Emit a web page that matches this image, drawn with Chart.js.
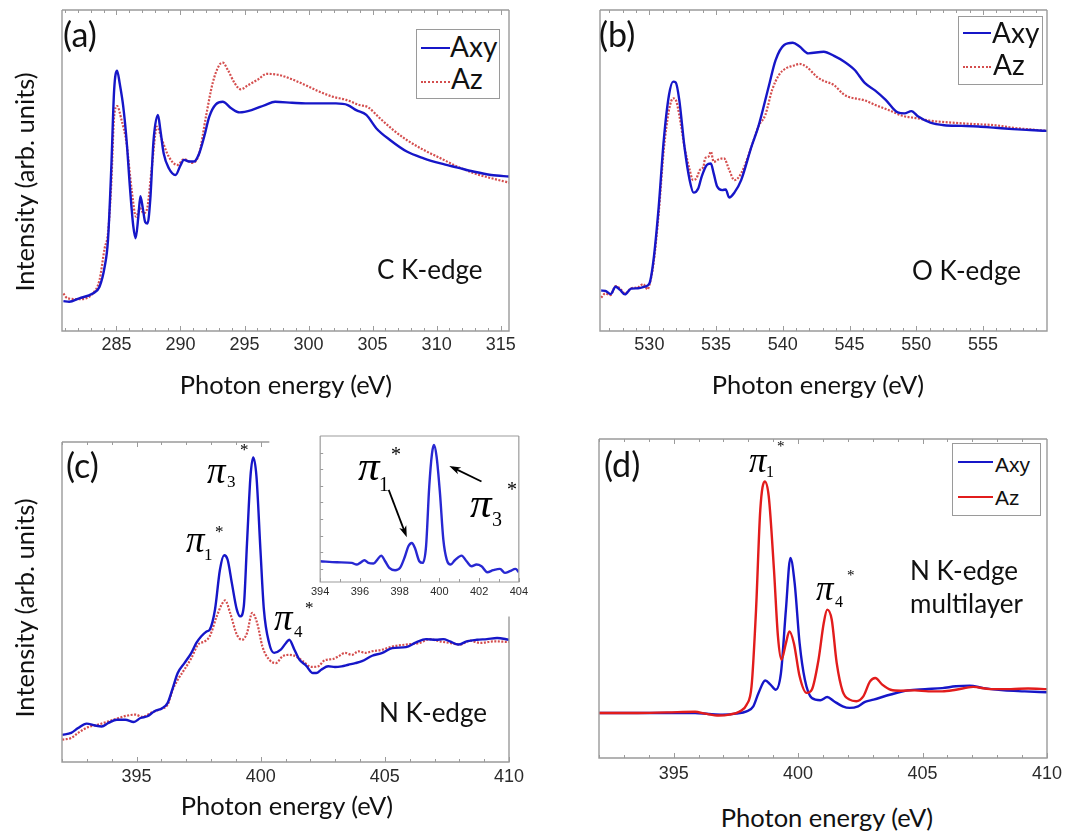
<!DOCTYPE html>
<html><head><meta charset="utf-8">
<script src="https://cdn.jsdelivr.net/npm/chart.js@4.4.0/dist/chart.umd.min.js"></script>
<style>
html,body{margin:0;padding:0;background:#fff;}
#wrap{position:relative;width:1069px;height:837px;overflow:hidden;background:#fff;}
canvas{position:absolute;}
.t{position:absolute;white-space:nowrap;color:#111;}
.box{position:absolute;border:1px solid #9a9a9a;background:#fff;}
.ln{position:absolute;height:0;}
</style></head><body><div id="wrap"></div>
<script>
// ---------- DATA ----------
// (a) C K-edge
const aAxyE = [280.86,281.31,282.10,283.15,283.68,284.08,284.34,284.60,284.82,285.05,285.26,285.53,285.79,286.05,286.32,286.50,286.71,286.87,287.06,287.24,287.43,287.64,287.90,288.24,288.43,288.69,289.09,289.61,290.01,290.27,290.67,291.06,291.46,291.85,292.25,292.78,293.30,293.96,294.62,295.55,296.60,297.39,298.71,299.76,301.08,302.14,303.06,303.72,304.51,305.30,306.36,307.67,308.99,310.31,311.63,312.95,314.26,315.71];
const aAxyI = [9.3,9.1,10.2,11.7,13.8,20,28.3,51,75,81.1,77,70,59.5,45,32.5,28.9,35.6,42,38.2,34,33.5,40.8,59.5,67.3,62.6,55.3,50.7,48.6,51.7,53.3,52.8,52.8,55.3,60.5,66.8,70.7,71.4,69.4,68.1,68.8,70.4,71.4,71.1,70.9,70.9,70.9,70.4,68.8,67.3,63.1,59.5,55.9,53.8,52.2,50.9,49.6,48.6,48.1];
const aAzE = [280.86,281.18,282.10,283.15,283.68,284.08,284.34,284.60,284.82,285.05,285.40,285.79,286.19,286.53,286.85,287.11,287.37,287.77,288.16,288.56,289.09,289.75,290.27,290.93,291.46,291.99,292.51,293.04,293.30,293.70,294.23,294.70,295.28,296.07,296.73,297.65,298.71,299.76,300.82,301.87,302.93,303.98,304.64,305.56,306.62,307.67,308.99,310.31,311.63,312.95,314.26,315.71];
const aAzI = [11.7,10.2,9.9,11.7,15.9,25.8,30.4,46,66.8,70.1,65.7,58.5,43.9,35.6,38.2,36.7,37.7,51.2,63.7,59.5,54.3,51.7,53.5,52.4,55.3,66.8,77.2,82.9,83.6,81.3,77.2,75.3,76.6,78.4,80.1,79.8,78.4,76.6,74.6,73,72,70.4,69.7,66.3,62.6,59.5,56.4,53.8,51.2,49.1,47.6,46.2];
const aTicks = [285,290,295,300,305,310,315];

// (b) O K-edge
const bAxyE = [526.39,526.70,527.09,527.47,527.81,528.17,528.63,529.15,529.66,530.00,530.31,530.70,531.08,531.47,531.78,531.98,532.24,532.63,533.02,533.32,533.66,533.92,534.30,534.61,534.82,535.08,535.46,535.72,535.98,536.37,536.88,537.65,538.17,538.94,539.46,540.10,540.75,541.26,541.91,543.07,543.84,544.61,545.39,546.16,546.93,547.71,548.61,549.12,549.64,550.15,551.06,552.09,553.38,554.66,555.95,557.24,558.53,559.95];
const bAxyI = [12.6,12.5,11.5,13.8,12.8,11.4,13.2,13.3,13.8,14.8,22.1,38.7,59.5,73.5,77.7,77.4,72,57.4,47,43.1,44.4,48.1,51.7,52.2,49.1,45,43.9,44.1,41.6,43.1,47,57.4,63.7,76.1,84.4,89.1,89.8,88.6,86.5,87,85.7,83.9,81.3,77.2,74.9,72,68.1,67.8,68.5,66.8,64.9,64.1,63.9,63.7,63.3,62.9,62.6,62.3];
const bAzE = [526.39,526.70,527.09,527.47,527.81,528.17,528.63,529.15,529.54,529.87,530.00,530.31,530.70,531.08,531.47,531.78,531.98,532.24,532.63,533.02,533.27,533.53,533.79,534.05,534.18,534.43,534.61,534.82,535.21,535.59,535.98,536.37,536.88,537.65,538.17,538.69,539.20,539.72,540.23,540.75,541.26,541.78,542.55,543.07,543.84,544.48,544.87,545.64,546.16,546.93,547.96,548.99,550.03,551.06,552.09,553.38,554.66,555.95,557.24,558.53,559.95];
const bAzI = [10.4,11.7,11.2,14,13.2,11.7,13.3,13.6,14.6,13,14.3,21,36.7,56.4,68.8,72.5,72,67.3,57.4,50.2,47,47.6,50.2,51.2,53.8,54.3,55.9,52.7,53.5,53.8,50.2,47,49.1,57.4,63.7,67.3,75.1,79.8,81.8,82.6,83.2,82.3,79.2,77.9,76.6,74,73,72.3,71.8,70.4,68.8,67,66.3,65.5,65.1,64.7,64.4,64.1,63.3,62.8,62.3];
const bTicks = [530,535,540,545,550,555];

// (c) N K-edge
const cAxyE = [392.01,392.37,392.65,392.99,393.33,393.60,393.87,394.21,394.55,394.89,395.16,395.44,395.71,396.05,396.25,396.46,396.66,396.93,397.21,397.41,397.61,397.82,397.95,398.16,398.36,398.53,398.67,398.84,399.04,399.18,399.32,399.45,399.59,399.70,399.83,399.99,400.13,400.34,400.54,400.81,401.02,401.15,401.36,401.56,401.83,402.10,402.24,402.45,402.72,402.99,403.26,403.53,403.81,404.08,404.49,404.90,405.30,405.85,406.26,406.66,407.07,407.35,407.62,407.96,408.30,408.71,409.11,409.52,410.0];
const cAxyI = [8.5,9.1,10.6,12,11.4,11.1,12.2,13.2,13.2,12.5,13.75,14.3,15.8,16.9,18.4,23.1,27.8,30.9,34.1,37.2,39.3,40.8,41.4,47.6,60.1,64.6,63.2,55.9,47.6,45.5,48.6,68.4,89.3,95.2,89.3,66.4,47.6,37.2,34.1,35.1,37.2,38.2,35.1,32,30.1,27.8,27.8,28.9,29.9,29.7,29.9,30.4,30.9,31.5,33.2,34.1,35.6,35.9,37.4,38.4,38.2,38.4,37.7,36.7,37.7,38.2,38.4,38.75,38.2];
const cAzE = [392.01,392.37,392.65,393.05,393.46,393.87,394.28,394.62,394.96,395.23,395.57,395.91,396.25,396.46,396.66,396.93,397.21,397.48,397.75,397.95,398.23,398.43,398.57,398.77,399.04,399.25,399.45,399.66,399.86,400.07,400.34,400.61,400.88,401.15,401.42,401.70,402.04,402.31,402.58,402.92,403.13,403.40,403.67,403.94,404.21,404.49,404.90,405.30,405.85,406.39,406.80,407.21,407.62,408.03,408.43,408.84,409.39,410.0];
const cAzI = [7,7.5,9.1,10.9,11.7,12.7,13.75,14.5,14.8,14.1,15.3,16.4,17.9,22.6,25.7,28.9,32.5,36.7,37.7,39.3,45.5,49.2,50.5,46.6,39.8,38.2,40.3,46.6,43.4,36.1,32,30.9,33,33.5,33,31.5,29.7,29.9,31.8,32.2,33,34.1,33.5,34.6,34.1,34.6,35.1,36.1,36.7,37.2,38.4,37.7,37.2,36.7,37.9,37.2,37.7,37.5];
const cTicks = [395,400,405,410];

// (c) inset
const inE = [394.00,394.84,395.59,395.84,396.01,396.23,396.43,396.68,396.88,397.07,397.27,397.48,397.77,398.02,398.27,398.44,398.61,398.77,398.99,399.16,399.33,399.49,399.63,399.73,399.86,400.03,400.20,400.37,400.57,400.78,401.12,401.37,401.62,401.87,402.12,402.41,402.71,403.05,403.30,403.55,403.83,404.0];
const inI = [0.46,0.40,0.36,0.26,0.36,0.52,0.36,0.32,0.56,0.80,0.46,0.06,-0.08,0.06,0.76,1.36,1.56,1.26,0.46,0.36,1.36,4.96,6.96,7.46,6.76,4.56,1.76,0.56,0.26,0.52,0.80,0.46,0.16,0.26,0.16,-0.20,-0.08,0.0,-0.24,-0.14,0.0,-0.20];
const inTicks = [394,396,398,400,402,404];
const inYTicks = [0,1,2,3,4,5,6,7];

// (d) N K-edge multilayer
const dAxyE = [391.99,393.37,394.75,395.86,396.41,396.96,397.51,397.93,398.20,398.41,398.68,398.89,399.10,399.31,399.51,399.69,399.86,400.06,400.27,400.55,400.89,401.17,401.44,401.79,402.07,402.41,402.69,403.03,403.72,404.41,405.10,405.79,406.34,406.89,407.45,408.27,409.10,410.0];
const dAxyI = [14.1,14.1,14.1,14.1,13.8,13.6,13.9,14.6,16.2,20.4,24.3,23,21.4,26.6,46.5,62.7,54.9,36,24.6,18.8,18.1,19.1,17.8,16.2,15.7,16.2,17.6,18.3,19.9,21.2,21.6,21.9,22.5,22.7,21.9,21.2,20.9,20.6];
const dAzE = [391.99,393.37,394.75,395.86,396.27,396.82,397.24,397.65,397.93,398.13,398.31,398.48,398.66,398.82,399.03,399.19,399.33,399.51,399.65,399.83,400.06,400.34,400.55,400.82,401.03,401.17,401.35,401.55,401.79,402.07,402.34,402.62,402.89,403.10,403.38,403.72,404.13,404.69,405.24,405.79,406.34,407.03,407.72,408.55,409.24,410.0];
const dAzI = [14.1,14.1,14.3,14.5,13.9,13.3,13.6,14.6,16.7,22.5,46.5,77.8,86.7,82,59,38.1,30.8,36,39.7,36,25.6,20.4,21.4,30.8,42.3,46.5,43.4,29.8,20.9,18.3,17.8,19.3,24,25.1,23,21.4,21.1,21.2,20.9,20.9,21.4,22.3,21.6,21.6,21.8,21.6];
const dTicks = [395,400,405,410];

const seriesNames = ['Axy','Az'];

// ---------- STYLE ----------
const BLUE = 'rgb(22,22,200)';
const REDDOT = 'rgb(212,78,78)';
const RED = 'rgb(226,28,28)';
const FRAME = '#9b9b9b';
const wrap = document.getElementById('wrap');
const zip = (xs, ys) => xs.map((x, i) => ({x: x, y: ys[i]}));

const framePlugin = {
  id: 'frameTicks',
  afterDatasetsDraw(chart, args, o) {
    const ctx = chart.ctx, ca = chart.chartArea, xs = chart.scales.x, ys = chart.scales.y;
    ctx.save();
    ctx.strokeStyle = FRAME; ctx.lineWidth = o.width || 1.4;
    const topEnd = (o.topEnd != null) ? xs.getPixelForValue(o.topEnd) : ca.right;
    const rightStart = (o.rightStart != null) ? ys.getPixelForValue(o.rightStart) : ca.top;
    ctx.beginPath();
    ctx.moveTo(ca.left, ca.top); ctx.lineTo(ca.left, ca.bottom); ctx.lineTo(ca.right, ca.bottom); ctx.lineTo(ca.right, rightStart);
    ctx.moveTo(ca.left, ca.top); ctx.lineTo(topEnd, ca.top);
    ctx.stroke();
    ctx.lineWidth = 1;
    ctx.beginPath();
    for (let v = Math.ceil(xs.min); v <= xs.max + 1e-9; v += 1) {
      const px = Math.round(xs.getPixelForValue(v)) + 0.5;
      const major = Math.abs(v / o.major - Math.round(v / o.major)) < 1e-6;
      const len = major ? o.majorLen : o.minorLen;
      ctx.moveTo(px, ca.bottom); ctx.lineTo(px, ca.bottom - len);
      if (o.top && px <= topEnd) { ctx.moveTo(px, ca.top); ctx.lineTo(px, ca.top + len); }
    }
    if (o.yTicks) {
      for (const v of o.yTicks) {
        const py = Math.round(ys.getPixelForValue(v)) + 0.5;
        ctx.moveTo(ca.left, py); ctx.lineTo(ca.left + o.minorLen, py);
      }
    }
    ctx.stroke();
    ctx.restore();
  }
};

const arrowPlugin = {
  id: 'arrows',
  afterDatasetsDraw(chart, args, o) {
    if (!o || !o.list) return;
    const ctx = chart.ctx, xs = chart.scales.x, ys = chart.scales.y;
    ctx.save();
    ctx.strokeStyle = '#000'; ctx.fillStyle = '#000'; ctx.lineWidth = 1.8;
    for (const a of o.list) {
      const x0 = xs.getPixelForValue(a.x0), y0 = ys.getPixelForValue(a.y0);
      const x1 = xs.getPixelForValue(a.x1), y1 = ys.getPixelForValue(a.y1);
      const ang = Math.atan2(y1 - y0, x1 - x0), L = 12, W = 0.32;
      ctx.beginPath(); ctx.moveTo(x0, y0); ctx.lineTo(x1 - Math.cos(ang) * 4, y1 - Math.sin(ang) * 4); ctx.stroke();
      ctx.beginPath();
      ctx.moveTo(x1, y1);
      ctx.lineTo(x1 - L * Math.cos(ang - W), y1 - L * Math.sin(ang - W));
      ctx.lineTo(x1 - L * 0.7 * Math.cos(ang), y1 - L * 0.7 * Math.sin(ang));
      ctx.lineTo(x1 - L * Math.cos(ang + W), y1 - L * Math.sin(ang + W));
      ctx.closePath(); ctx.fill();
    }
    ctx.restore();
  }
};

function panel(frame, pad, axisH, xr, yr, datasets, ticks, tickFont, tickPad, fopts, arrows) {
  const c = document.createElement('canvas');
  const w = frame.R - frame.L + pad.l + pad.r, h = frame.B - frame.T + pad.t + axisH;
  c.width = w; c.height = h;
  c.style.left = (frame.L - pad.l) + 'px'; c.style.top = (frame.T - pad.t) + 'px';
  c.style.width = w + 'px'; c.style.height = h + 'px';
  wrap.appendChild(c);
  new Chart(c, {
    type: 'line',
    data: { datasets: datasets },
    options: {
      responsive: false, animation: false, devicePixelRatio: 1,
      layout: { padding: { left: pad.l, right: pad.r, top: pad.t, bottom: 0 } },
      plugins: { legend: { display: false }, tooltip: { enabled: false }, frameTicks: fopts, arrows: arrows || {} },
      elements: { point: { radius: 0 }, line: { cubicInterpolationMode: 'monotone' } },
      scales: {
        x: {
          type: 'linear', min: xr[0], max: xr[1],
          grid: { display: false, drawTicks: false }, border: { display: false },
          afterBuildTicks: s => { s.ticks = ticks.map(v => ({ value: v })); },
          afterFit: s => { s.height = axisH; },
          ticks: { autoSkip: false, maxRotation: 0, padding: tickPad, color: '#2a2a2a', font: tickFont, callback: v => String(v) }
        },
        y: { display: false, min: yr[0], max: yr[1] }
      }
    },
    plugins: [framePlugin, arrowPlugin]
  });
}

const tickFont = { family: "'Liberation Sans', Arial, sans-serif", size: 18 };
const dotted = (xs, ys, label) => ({ label: label, data: zip(xs, ys), borderColor: REDDOT, borderWidth: 2.2, borderDash: [2, 1.5], fill: false });
const solid = (xs, ys, label, col) => ({ label: label, data: zip(xs, ys), borderColor: col, borderWidth: 2.4, fill: false });
const mainF = { top: true, major: 5, majorLen: 5, minorLen: 3 };

// (a)
panel({L: 62, R: 509, T: 10, B: 331}, {l: 24, r: 24, t: 4}, 40, [280.75, 315.65], [0, 100],
  [solid(aAxyE, aAxyI, seriesNames[0], BLUE), dotted(aAzE, aAzI, seriesNames[1])], aTicks, tickFont, 3, mainF);
// (b)
panel({L: 600, R: 1047, T: 10, B: 331}, {l: 24, r: 24, t: 4}, 40, [526.3, 559.8], [0, 100],
  [solid(bAxyE, bAxyI, seriesNames[0], BLUE), dotted(bAzE, bAzI, seriesNames[1])], bTicks, tickFont, 3, mainF);
// (c)
panel({L: 62, R: 509, T: 442, B: 762}, {l: 24, r: 24, t: 4}, 40, [392, 410], [0, 100],
  [solid(cAxyE, cAxyI, seriesNames[0], BLUE), dotted(cAzE, cAzI, seriesNames[1])], cTicks, tickFont, 4,
  Object.assign({}, mainF, { topEnd: 400.35, rightStart: 45.5 }));
// (c) inset
panel({L: 320, R: 519, T: 436, B: 582}, {l: 12, r: 12, t: 3}, 20, [394, 404], [-0.79, 8.0],
  [solid(inE, inI, seriesNames[0], 'rgb(40,40,210)')], inTicks, { family: "'Liberation Sans', Arial, sans-serif", size: 11 }, 3,
  { top: false, major: 2, majorLen: 4, minorLen: 3, yTicks: inYTicks, width: 1.2 },
  { list: [ { x0: 397.45, y0: 4.76, x1: 398.36, y1: 1.9 }, { x0: 402.12, y0: 5.26, x1: 400.5, y1: 6.2 } ] });
// (d)
panel({L: 599, R: 1047, T: 439, B: 758}, {l: 24, r: 24, t: 4}, 40, [392, 410], [0, 100],
  [solid(dAzE, dAzI, seriesNames[1], RED), solid(dAxyE, dAxyI, seriesNames[0], BLUE)], dTicks, tickFont, 5, mainF);

// ---------- TEXT ----------
const mctx = document.createElement('canvas').getContext('2d');
function metrics(font) { mctx.font = font; const m = mctx.measureText('Hgy(|'); return [m.fontBoundingBoxAscent, m.fontBoundingBoxDescent]; }
function txt(s, x, base, font, align, color) {
  const [asc, desc] = metrics(font);
  const d = document.createElement('div');
  d.className = 't'; d.textContent = s;
  d.style.font = font; d.style.lineHeight = (asc + desc) + 'px';
  d.style.top = (base - asc) + 'px'; d.style.left = x + 'px';
  if (align === 'center') d.style.transform = 'translateX(-50%)';
  if (color) d.style.color = color;
  wrap.appendChild(d);
  return d;
}
function vtxt(s, cx, cy, font) {
  const [asc, desc] = metrics(font);
  const d = document.createElement('div');
  d.className = 't'; d.textContent = s;
  d.style.font = font; d.style.lineHeight = (asc + desc) + 'px';
  d.style.left = cx + 'px'; d.style.top = cy + 'px';
  d.style.transform = 'translate(-50%,-50%) rotate(-90deg)';
  wrap.appendChild(d);
}
const SANS = "Lato, 'Open Sans', sans-serif";
const SERIF = "'Liberation Serif', 'DejaVu Serif', serif";
const F = (sz) => sz + 'px ' + SANS;

// panel letters
txt('(a)', 63, 46.5, F(34));
txt('(b)', 599, 46.5, F(34));
txt('(c)', 66, 478, F(34));
txt('(d)', 604, 476.5, F(34));

// axis titles
txt('Photon energy (eV)', 286, 393.5, F(25.5), 'center');
txt('Photon energy (eV)', 818, 393.5, F(25.5), 'center');
txt('Photon energy (eV)', 287, 815, F(25.5), 'center');
txt('Photon energy (eV)', 827, 826.5, F(25.5), 'center');
vtxt('Intensity (arb. units)', 24, 182, F(25.5));
vtxt('Intensity (arb. units)', 24, 608, F(25.5));

// edge labels
txt('C K-edge', 377, 278.5, F(26));
txt('O K-edge', 912, 280, F(26));
txt('N K-edge', 379, 721.5, F(26));
txt('N K-edge', 910, 580, F(26));
txt('multilayer', 910, 613, F(26));

// pi annotations
function pi(x, base, sz, sub, subX, subBase, subSz, starX, starBase, starSz) {
  txt('\u03C0', x, base, 'italic ' + sz + 'px ' + SERIF, 'left', '#000');
  txt(sub, subX, subBase, subSz + 'px ' + SERIF, 'left', '#000');
  txt('*', starX, starBase, starSz + 'px ' + SERIF, 'left', '#000');
}
pi(186, 551.5, 37, '1', 204, 560, 17, 215, 537, 17);
pi(207, 483, 37, '3', 227, 486.5, 17, 240, 455, 17);
pi(274, 630, 37, '4', 294, 637, 17, 305, 613, 17);
pi(358, 480, 43, '1', 379, 490.5, 20, 391, 461, 20);
pi(470, 516.5, 43, '3', 492, 525.5, 20, 507, 496, 20);
pi(749, 471.5, 35, '1', 766, 477, 16, 777, 451, 15);
pi(816, 600, 35, '4', 835, 607, 16, 847, 580, 15);

// legends
function legend(box, rows, font) {
  const b = document.createElement('div'); b.className = 'box';
  b.style.left = box.x + 'px'; b.style.top = box.y + 'px'; b.style.width = box.w + 'px'; b.style.height = box.h + 'px';
  wrap.appendChild(b);
  for (const r of rows) {
    const l = document.createElement('div'); l.className = 'ln';
    l.style.left = r.lx + 'px'; l.style.top = (r.ly - 1) + 'px'; l.style.width = r.lw + 'px';
    l.style.borderTop = '2px ' + r.style + ' ' + r.color;
    wrap.appendChild(l);
    txt(r.text, r.tx, r.tb, font);
  }
}
legend({x: 416, y: 29, w: 82, h: 68}, [
  {lx: 421, ly: 48, lw: 29, style: 'solid', color: BLUE, text: seriesNames[0], tx: 450, tb: 57},
  {lx: 421, ly: 82, lw: 29, style: 'dotted', color: REDDOT, text: seriesNames[1], tx: 451, tb: 88.5}], F(28));
legend({x: 958, y: 16, w: 83, h: 67}, [
  {lx: 963, ly: 33, lw: 28, style: 'solid', color: BLUE, text: seriesNames[0], tx: 992, tb: 43},
  {lx: 963, ly: 67, lw: 28, style: 'dotted', color: REDDOT, text: seriesNames[1], tx: 993, tb: 75}], F(28));
legend({x: 952, y: 443, w: 87, h: 71}, [
  {lx: 958, ly: 462, lw: 35, style: 'solid', color: BLUE, text: seriesNames[0], tx: 995, tb: 471.5},
  {lx: 958, ly: 497, lw: 35, style: 'solid', color: RED, text: seriesNames[1], tx: 995, tb: 505}], "21px 'Liberation Sans', Arial, sans-serif");
</script>
</body></html>
